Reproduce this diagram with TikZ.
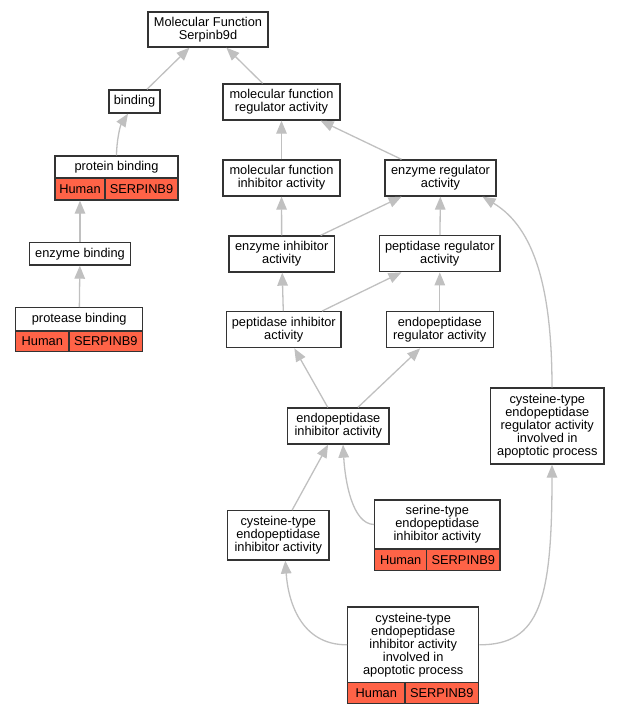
\documentclass[tikz,border=0pt]{standalone}
\usepackage{fontspec}
\setmainfont{Liberation Sans}
\usetikzlibrary{arrows.meta}
\definecolor{edgegray}{HTML}{C0C0C0}
\definecolor{tomatoc}{HTML}{FF6347}
\definecolor{boxline}{HTML}{333333}
\newcommand\gofont{\fontsize{12.8}{13}\selectfont\lineskiplimit=-20pt}
\begin{document}
\begin{tikzpicture}[x=1pt,y=-1pt,
  box/.style={draw=boxline, line width=1.3pt, fill=white, inner sep=0pt, align=center, font=\gofont},
  cell/.style={box, fill=tomatoc},
  edge/.style={draw=edgegray, line width=1.3pt, -{Triangle[length=13pt,width=10.5pt]}}]
\useasboundingbox (0,0) rectangle (619,715);
% nodes
\node[box, minimum width=120pt, minimum height=35pt] (mf) at (208,29.5) {Molecular Function\\Serpinb9d};
\node[box, minimum width=51pt, minimum height=23pt] (b) at (134.5,101.5) {binding};
\node[box, minimum width=117pt, minimum height=36pt] (mfr) at (281.5,102) {molecular function\\regulator activity};
\node[box, minimum width=123pt, minimum height=22pt] (pb) at (116.5,167) {protein binding};
\node[cell, minimum width=50pt, minimum height=22pt] (pbh) at (80,189) {Human};
\node[cell, minimum width=73pt, minimum height=22pt] (pbs) at (141.5,189) {SERPINB9};
\node[box, minimum width=117pt, minimum height=36pt] (mfi) at (281.5,178) {molecular function\\inhibitor activity};
\node[box, minimum width=111pt, minimum height=36pt] (er) at (440.5,178) {enzyme regulator\\activity};
\node[box, minimum width=101.4pt, minimum height=22.7pt] (eb) at (80,253.7) {enzyme binding};
\node[box, minimum width=105.3pt, minimum height=36pt] (ei) at (281.7,254) {enzyme inhibitor\\activity};
\node[box, minimum width=120.3pt, minimum height=36pt] (pr) at (439.8,253.7) {peptidase regulator\\activity};
\node[box, minimum width=127pt, minimum height=23.3pt] (prb) at (79.2,319.3) {protease binding};
\node[cell, minimum width=53.3pt, minimum height=20.7pt] (prbh) at (42.3,341.3) {Human};
\node[cell, minimum width=73.7pt, minimum height=20.7pt] (prbs) at (105.8,341.3) {SERPINB9};
\node[box, minimum width=114.3pt, minimum height=36pt] (pi) at (283.8,329.7) {peptidase inhibitor\\activity};
\node[box, minimum width=107pt, minimum height=36pt] (epr) at (439.8,329.7) {endopeptidase\\regulator activity};
\node[box, minimum width=101.3pt, minimum height=36pt] (epi) at (338.3,426) {endopeptidase\\inhibitor activity};
\node[box, minimum width=113.3pt, minimum height=76pt] (cerap) at (547.3,426) {cysteine-type\\endopeptidase\\regulator activity\\involved in\\apoptotic process};
\node[box, minimum width=101.3pt, minimum height=49.3pt] (cei) at (278.3,535.3) {cysteine-type\\endopeptidase\\inhibitor activity};
\node[box, minimum width=125.3pt, minimum height=49pt] (sei) at (437.3,524.5) {serine-type\\endopeptidase\\inhibitor activity};
\node[cell, minimum width=52pt, minimum height=21.7pt] (seih) at (400.7,559.8) {Human};
\node[cell, minimum width=73.3pt, minimum height=21.7pt] (seis) at (463.3,559.8) {SERPINB9};
\node[box, minimum width=131pt, minimum height=75.7pt] (ceiap) at (413.2,644.8) {cysteine-type\\endopeptidase\\inhibitor activity\\involved in\\apoptotic process};
\node[cell, minimum width=57.3pt, minimum height=21pt] (ceiaph) at (376.3,693.2) {Human};
\node[cell, minimum width=73.7pt, minimum height=21pt] (ceiaps) at (441.8,693.2) {SERPINB9};
% edges
\draw[edge] (b) -- (mf);
\draw[edge] (mfr) -- (mf);
\draw[edge] (pb.north) .. controls (116.5,142) and (120,126) .. ([xshift=-6.5]b.south);
\draw[edge] (eb) -- (pbh);
\draw[edge] (prb) -- (eb);
\draw[edge] (mfi) -- (mfr);
\draw[edge] (er) -- (mfr);
\draw[edge] (ei) -- (mfi);
\draw[edge] (ei) -- (er);
\draw[edge] (pr) -- (er);
\draw[edge] (pi) -- (ei);
\draw[edge] (pi) -- (pr);
\draw[edge] (epr) -- (pr);
\draw[edge] (epi) -- (pi);
\draw[edge] (epi) -- (epr);
\draw[edge] ([xshift=4.7]cerap.north) .. controls (552,290) and (535,228) .. ([xshift=42]er.south);
\draw[edge] (cei) -- (epi);
\draw[edge] (sei.west) .. controls (352,524) and (345,480) .. ([xshift=4.7]epi.south);
\draw[edge] (ceiap.west) .. controls (300,645) and (288,600) .. ([xshift=7]cei.south);
\draw[edge] (ceiap.east) .. controls (540,645) and (552,600) .. ([xshift=4.7]cerap.south);
\end{tikzpicture}
\end{document}
